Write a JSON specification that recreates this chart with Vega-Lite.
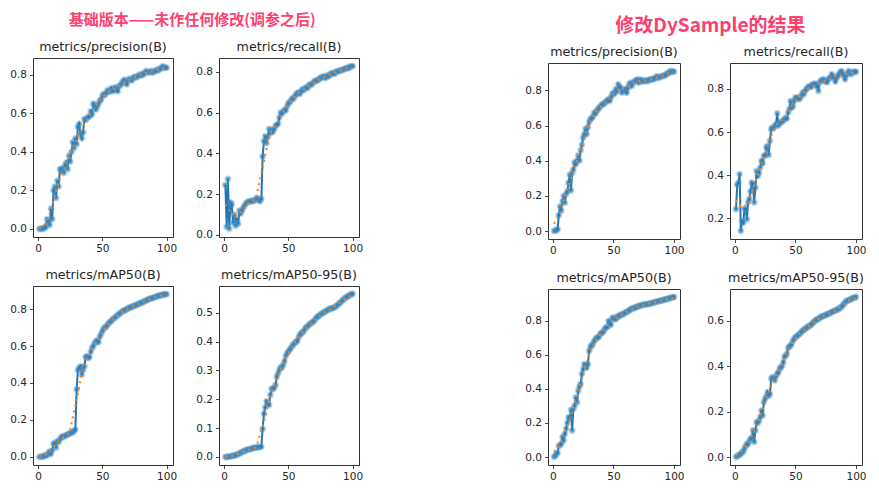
{
"$schema": "https://vega.github.io/schema/vega-lite/v6.json",
"padding": {"left": 9, "top": 12, "right": 5, "bottom": 5},
"background": "white",
"config": {
  "font": "DejaVu Sans",
  "view": {"stroke": "#333", "strokeWidth": 1},
  "axis": {"domain": false, "grid": false, "tickSize": 3.5, "tickColor": "#333", "tickWidth": 0.9, "labelFont": "DejaVu Sans", "labelFontSize": 10.5, "labelColor": "#262626", "labelPadding": 3, "labelFlush": false, "labelOverlap": false},
  "title": {"font": "DejaVu Sans", "fontSize": 12.7, "fontWeight": "normal", "color": "#262626", "offset": 4, "anchor": "middle"}
},
"data": {"values": [
{"x":1,"a":0,"b":0.245,"c":0,"d":0,"e":0,"f":0.242,"g":0,"h":0},
{"x":2,"a":0,"b":0.04,"c":0,"d":0,"e":0.002,"f":0.355,"g":0.008,"h":0.003},
{"x":3,"a":0.001,"b":0.275,"c":0.001,"d":0.001,"e":0.005,"f":0.365,"g":0.018,"h":0.007},
{"x":4,"a":0.002,"b":0.03,"c":0.002,"d":0.001,"e":0.01,"f":0.405,"g":0.025,"h":0.01},
{"x":5,"a":0.005,"b":0.16,"c":0.005,"d":0.002,"e":0.09,"f":0.141,"g":0.065,"h":0.015},
{"x":6,"a":0.01,"b":0.15,"c":0.01,"d":0.003,"e":0.14,"f":0.188,"g":0.07,"h":0.02},
{"x":7,"a":0.05,"b":0.06,"c":0.008,"d":0.004,"e":0.115,"f":0.18,"g":0.078,"h":0.026},
{"x":8,"a":0.04,"b":0.1,"c":0.02,"d":0.005,"e":0.17,"f":0.245,"g":0.117,"h":0.037},
{"x":9,"a":0.02,"b":0.045,"c":0.03,"d":0.006,"e":0.2,"f":0.242,"g":0.098,"h":0.048},
{"x":10,"a":0.105,"b":0.075,"c":0.015,"d":0.008,"e":0.16,"f":0.195,"g":0.137,"h":0.059},
{"x":11,"a":0.05,"b":0.055,"c":0.035,"d":0.01,"e":0.21,"f":0.275,"g":0.166,"h":0.056},
{"x":12,"a":0.2,"b":0.12,"c":0.07,"d":0.012,"e":0.225,"f":0.29,"g":0.2,"h":0.07},
{"x":13,"a":0.22,"b":0.105,"c":0.075,"d":0.015,"e":0.275,"f":0.325,"g":0.234,"h":0.08},
{"x":14,"a":0.16,"b":0.12,"c":0.05,"d":0.017,"e":0.32,"f":0.365,"g":0.224,"h":0.085},
{"x":15,"a":0.25,"b":0.135,"c":0.085,"d":0.019,"e":0.23,"f":0.358,"g":0.277,"h":0.117},
{"x":16,"a":0.22,"b":0.145,"c":0.08,"d":0.021,"e":0.33,"f":0.273,"g":0.156,"h":0.066},
{"x":17,"a":0.31,"b":0.155,"c":0.095,"d":0.023,"e":0.35,"f":0.342,"g":0.283,"h":0.117},
{"x":18,"a":0.3,"b":0.16,"c":0.105,"d":0.025,"e":0.39,"f":0.42,"g":0.302,"h":0.154},
{"x":19,"a":0.315,"b":0.163,"c":0.11,"d":0.026,"e":0.38,"f":0.396,"g":0.35,"h":0.15},
{"x":20,"a":0.29,"b":0.165,"c":0.108,"d":0.027,"e":0.4,"f":0.41,"g":0.322,"h":0.16},
{"x":21,"a":0.33,"b":0.165,"c":0.115,"d":0.028,"e":0.43,"f":0.435,"g":0.39,"h":0.176},
{"x":22,"a":0.345,"b":0.168,"c":0.118,"d":0.03,"e":0.4,"f":0.466,"g":0.415,"h":0.205},
{"x":23,"a":0.31,"b":0.166,"c":0.12,"d":0.031,"e":0.46,"f":0.455,"g":0.43,"h":0.183},
{"x":24,"a":0.38,"b":0.172,"c":0.125,"d":0.032,"e":0.49,"f":0.49,"g":0.488,"h":0.241},
{"x":25,"a":0.35,"b":0.178,"c":0.128,"d":0.033,"e":0.53,"f":0.49,"g":0.517,"h":0.256},
{"x":26,"a":0.4,"b":0.182,"c":0.13,"d":0.033,"e":0.55,"f":0.528,"g":0.546,"h":0.265},
{"x":27,"a":0.45,"b":0.17,"c":0.135,"d":0.034,"e":0.58,"f":0.535,"g":0.54,"h":0.285},
{"x":28,"a":0.42,"b":0.165,"c":0.14,"d":0.035,"e":0.55,"f":0.494,"g":0.525,"h":0.27},
{"x":29,"a":0.47,"b":0.178,"c":0.148,"d":0.035,"e":0.59,"f":0.56,"g":0.546,"h":0.278},
{"x":30,"a":0.44,"b":0.385,"c":0.365,"d":0.097,"e":0.62,"f":0.613,"g":0.624,"h":0.344},
{"x":31,"a":0.53,"b":0.46,"c":0.47,"d":0.15,"e":0.635,"f":0.62,"g":0.648,"h":0.351},
{"x":32,"a":0.545,"b":0.485,"c":0.48,"d":0.172,"e":0.64,"f":0.618,"g":0.654,"h":0.345},
{"x":33,"a":0.49,"b":0.45,"c":0.49,"d":0.193,"e":0.65,"f":0.628,"g":0.663,"h":0.337},
{"x":34,"a":0.47,"b":0.48,"c":0.445,"d":0.185,"e":0.673,"f":0.636,"g":0.68,"h":0.355},
{"x":35,"a":0.5,"b":0.52,"c":0.47,"d":0.18,"e":0.665,"f":0.686,"g":0.69,"h":0.366},
{"x":36,"a":0.57,"b":0.5,"c":0.49,"d":0.215,"e":0.68,"f":0.63,"g":0.7,"h":0.373},
{"x":37,"a":0.565,"b":0.515,"c":0.54,"d":0.237,"e":0.69,"f":0.64,"g":0.702,"h":0.388},
{"x":38,"a":0.575,"b":0.505,"c":0.545,"d":0.235,"e":0.7,"f":0.644,"g":0.706,"h":0.395},
{"x":39,"a":0.58,"b":0.52,"c":0.535,"d":0.24,"e":0.705,"f":0.65,"g":0.722,"h":0.4},
{"x":40,"a":0.585,"b":0.535,"c":0.54,"d":0.25,"e":0.715,"f":0.652,"g":0.728,"h":0.417},
{"x":41,"a":0.61,"b":0.54,"c":0.57,"d":0.278,"e":0.72,"f":0.66,"g":0.732,"h":0.44},
{"x":42,"a":0.595,"b":0.545,"c":0.59,"d":0.29,"e":0.722,"f":0.665,"g":0.741,"h":0.446},
{"x":43,"a":0.65,"b":0.575,"c":0.6,"d":0.302,"e":0.73,"f":0.662,"g":0.755,"h":0.454},
{"x":44,"a":0.64,"b":0.6,"c":0.615,"d":0.31,"e":0.735,"f":0.69,"g":0.762,"h":0.48},
{"x":45,"a":0.62,"b":0.595,"c":0.625,"d":0.31,"e":0.742,"f":0.706,"g":0.765,"h":0.485},
{"x":46,"a":0.635,"b":0.605,"c":0.63,"d":0.32,"e":0.75,"f":0.744,"g":0.8,"h":0.49},
{"x":47,"a":0.65,"b":0.615,"c":0.62,"d":0.332,"e":0.74,"f":0.713,"g":0.79,"h":0.498},
{"x":48,"a":0.665,"b":0.61,"c":0.65,"d":0.35,"e":0.76,"f":0.72,"g":0.778,"h":0.512},
{"x":49,"a":0.67,"b":0.63,"c":0.665,"d":0.36,"e":0.777,"f":0.744,"g":0.815,"h":0.52},
{"x":50,"a":0.69,"b":0.645,"c":0.68,"d":0.365,"e":0.787,"f":0.76,"g":0.82,"h":0.527},
{"x":51,"a":0.7,"b":0.65,"c":0.695,"d":0.372,"e":0.78,"f":0.755,"g":0.812,"h":0.53},
{"x":52,"a":0.695,"b":0.66,"c":0.7,"d":0.378,"e":0.806,"f":0.76,"g":0.81,"h":0.534},
{"x":53,"a":0.705,"b":0.67,"c":0.705,"d":0.385,"e":0.795,"f":0.752,"g":0.822,"h":0.54},
{"x":54,"a":0.72,"b":0.668,"c":0.715,"d":0.39,"e":0.834,"f":0.758,"g":0.83,"h":0.544},
{"x":55,"a":0.71,"b":0.68,"c":0.725,"d":0.395,"e":0.82,"f":0.77,"g":0.828,"h":0.55},
{"x":56,"a":0.715,"b":0.69,"c":0.73,"d":0.4,"e":0.815,"f":0.783,"g":0.835,"h":0.556},
{"x":57,"a":0.73,"b":0.695,"c":0.735,"d":0.402,"e":0.787,"f":0.775,"g":0.84,"h":0.56},
{"x":58,"a":0.715,"b":0.7,"c":0.745,"d":0.415,"e":0.795,"f":0.79,"g":0.838,"h":0.563},
{"x":59,"a":0.72,"b":0.692,"c":0.75,"d":0.424,"e":0.805,"f":0.798,"g":0.845,"h":0.568},
{"x":60,"a":0.735,"b":0.705,"c":0.755,"d":0.428,"e":0.806,"f":0.806,"g":0.85,"h":0.572},
{"x":61,"a":0.725,"b":0.715,"c":0.762,"d":0.432,"e":0.787,"f":0.81,"g":0.852,"h":0.574},
{"x":62,"a":0.715,"b":0.71,"c":0.77,"d":0.437,"e":0.815,"f":0.814,"g":0.858,"h":0.578},
{"x":63,"a":0.74,"b":0.72,"c":0.772,"d":0.445,"e":0.834,"f":0.808,"g":0.862,"h":0.582},
{"x":64,"a":0.745,"b":0.725,"c":0.778,"d":0.45,"e":0.843,"f":0.822,"g":0.866,"h":0.588},
{"x":65,"a":0.755,"b":0.72,"c":0.785,"d":0.453,"e":0.825,"f":0.818,"g":0.872,"h":0.593},
{"x":66,"a":0.765,"b":0.735,"c":0.79,"d":0.458,"e":0.84,"f":0.825,"g":0.875,"h":0.598},
{"x":67,"a":0.775,"b":0.74,"c":0.792,"d":0.462,"e":0.848,"f":0.82,"g":0.876,"h":0.603},
{"x":68,"a":0.76,"b":0.735,"c":0.795,"d":0.465,"e":0.853,"f":0.81,"g":0.878,"h":0.605},
{"x":69,"a":0.75,"b":0.745,"c":0.8,"d":0.468,"e":0.858,"f":0.79,"g":0.882,"h":0.607},
{"x":70,"a":0.77,"b":0.752,"c":0.803,"d":0.472,"e":0.862,"f":0.83,"g":0.885,"h":0.612},
{"x":71,"a":0.78,"b":0.758,"c":0.807,"d":0.478,"e":0.843,"f":0.838,"g":0.888,"h":0.616},
{"x":72,"a":0.775,"b":0.755,"c":0.81,"d":0.484,"e":0.855,"f":0.84,"g":0.89,"h":0.618},
{"x":73,"a":0.77,"b":0.76,"c":0.812,"d":0.487,"e":0.862,"f":0.845,"g":0.892,"h":0.62},
{"x":74,"a":0.785,"b":0.765,"c":0.815,"d":0.49,"e":0.85,"f":0.84,"g":0.894,"h":0.622},
{"x":75,"a":0.79,"b":0.77,"c":0.818,"d":0.494,"e":0.852,"f":0.835,"g":0.896,"h":0.625},
{"x":76,"a":0.785,"b":0.775,"c":0.82,"d":0.497,"e":0.855,"f":0.83,"g":0.897,"h":0.627},
{"x":77,"a":0.79,"b":0.772,"c":0.824,"d":0.5,"e":0.858,"f":0.842,"g":0.898,"h":0.629},
{"x":78,"a":0.795,"b":0.78,"c":0.828,"d":0.503,"e":0.852,"f":0.85,"g":0.899,"h":0.632},
{"x":79,"a":0.8,"b":0.77,"c":0.83,"d":0.505,"e":0.857,"f":0.853,"g":0.9,"h":0.635},
{"x":80,"a":0.795,"b":0.776,"c":0.833,"d":0.508,"e":0.86,"f":0.868,"g":0.902,"h":0.637},
{"x":81,"a":0.805,"b":0.785,"c":0.836,"d":0.511,"e":0.862,"f":0.858,"g":0.904,"h":0.64},
{"x":82,"a":0.8,"b":0.78,"c":0.84,"d":0.513,"e":0.865,"f":0.85,"g":0.906,"h":0.642},
{"x":83,"a":0.81,"b":0.79,"c":0.843,"d":0.515,"e":0.862,"f":0.834,"g":0.908,"h":0.644},
{"x":84,"a":0.82,"b":0.795,"c":0.846,"d":0.516,"e":0.868,"f":0.85,"g":0.91,"h":0.647},
{"x":85,"a":0.815,"b":0.792,"c":0.85,"d":0.517,"e":0.872,"f":0.86,"g":0.912,"h":0.65},
{"x":86,"a":0.81,"b":0.79,"c":0.853,"d":0.519,"e":0.88,"f":0.868,"g":0.914,"h":0.652},
{"x":87,"a":0.815,"b":0.8,"c":0.856,"d":0.522,"e":0.87,"f":0.876,"g":0.916,"h":0.656},
{"x":88,"a":0.82,"b":0.805,"c":0.858,"d":0.526,"e":0.875,"f":0.883,"g":0.918,"h":0.661},
{"x":89,"a":0.81,"b":0.8,"c":0.86,"d":0.53,"e":0.878,"f":0.87,"g":0.919,"h":0.666},
{"x":90,"a":0.815,"b":0.806,"c":0.862,"d":0.534,"e":0.88,"f":0.86,"g":0.921,"h":0.673},
{"x":91,"a":0.82,"b":0.81,"c":0.865,"d":0.538,"e":0.882,"f":0.845,"g":0.923,"h":0.679},
{"x":92,"a":0.825,"b":0.808,"c":0.868,"d":0.543,"e":0.885,"f":0.862,"g":0.925,"h":0.685},
{"x":93,"a":0.82,"b":0.812,"c":0.87,"d":0.547,"e":0.887,"f":0.873,"g":0.927,"h":0.688},
{"x":94,"a":0.83,"b":0.815,"c":0.872,"d":0.551,"e":0.893,"f":0.883,"g":0.929,"h":0.69},
{"x":95,"a":0.83,"b":0.818,"c":0.874,"d":0.554,"e":0.897,"f":0.875,"g":0.931,"h":0.692},
{"x":96,"a":0.835,"b":0.82,"c":0.876,"d":0.556,"e":0.9,"f":0.868,"g":0.933,"h":0.695},
{"x":97,"a":0.845,"b":0.818,"c":0.878,"d":0.559,"e":0.91,"f":0.876,"g":0.936,"h":0.698},
{"x":98,"a":0.838,"b":0.825,"c":0.879,"d":0.562,"e":0.905,"f":0.88,"g":0.938,"h":0.7},
{"x":99,"a":0.835,"b":0.828,"c":0.88,"d":0.565,"e":0.908,"f":0.878,"g":0.94,"h":0.702},
{"x":100,"a":0.837,"b":0.828,"c":0.881,"d":0.565,"e":0.906,"f":0.88,"g":0.941,"h":0.704}
]},
"spacing": 160,
"hconcat": [
 {
  "title": {"text": "基础版本——未作任何修改(调参之后)", "font": "Noto Sans CJK SC", "fontSize": 15, "fontWeight": "bold", "color": "#fe4070", "offset": -7, "dx": 6},
  "spacing": 13,
  "vconcat": [
   {"width": 1, "height": 1, "view": {"stroke": null}, "mark": {"type": "point", "opacity": 0}, "encoding": {}},
   {"bounds": "flush", "spacing": 46, "hconcat": [
    {"width": 140, "height": 179, "title": "metrics/precision(B)",
     "transform": [{"window": [{"op": "mean", "field": "a", "as": "s"}], "frame": [-5, 5], "sort": [{"field": "x"}]}],
     "encoding": {"x": {"field": "x", "type": "quantitative", "title": null, "scale": {"domain": [-3.95, 104.95], "nice": false, "zero": false}, "axis": {"values": [0, 50, 100]}}},
     "layer": [
      {"mark": {"type": "line", "color": "#1f77b4", "strokeWidth": 2}, "encoding": {"y": {"field": "a", "type": "quantitative", "title": null, "scale": {"domain": [-0.042, 0.887], "nice": false, "zero": false}, "axis": {"values": [0, 0.2, 0.4, 0.6, 0.8], "format": ".1f"}}}},
      {"mark": {"type": "point", "filled": true, "color": "#1f77b4", "size": 24, "stroke": "#5b9bd0", "strokeWidth": 2, "strokeOpacity": 0.5}, "encoding": {"y": {"field": "a", "type": "quantitative", "title": null, "axis": {"values": [0, 0.2, 0.4, 0.6, 0.8], "format": ".1f"}}}},
      {"mark": {"type": "line", "color": "#ff7f0e", "strokeWidth": 2, "strokeDash": [2, 4]}, "encoding": {"y": {"field": "s", "type": "quantitative", "title": null, "axis": {"values": [0, 0.2, 0.4, 0.6, 0.8], "format": ".1f"}}}}
     ]},
    {"width": 140, "height": 179, "title": "metrics/recall(B)",
     "transform": [{"window": [{"op": "mean", "field": "b", "as": "s"}], "frame": [-5, 5], "sort": [{"field": "x"}]}],
     "encoding": {"x": {"field": "x", "type": "quantitative", "title": null, "scale": {"domain": [-3.95, 104.95], "nice": false, "zero": false}, "axis": {"values": [0, 50, 100]}}},
     "layer": [
      {"mark": {"type": "line", "color": "#1f77b4", "strokeWidth": 2}, "encoding": {"y": {"field": "b", "type": "quantitative", "title": null, "scale": {"domain": [-0.010, 0.868], "nice": false, "zero": false}, "axis": {"values": [0, 0.2, 0.4, 0.6, 0.8], "format": ".1f"}}}},
      {"mark": {"type": "point", "filled": true, "color": "#1f77b4", "size": 24, "stroke": "#5b9bd0", "strokeWidth": 2, "strokeOpacity": 0.5}, "encoding": {"y": {"field": "b", "type": "quantitative", "title": null, "axis": {"values": [0, 0.2, 0.4, 0.6, 0.8], "format": ".1f"}}}},
      {"mark": {"type": "line", "color": "#ff7f0e", "strokeWidth": 2, "strokeDash": [2, 4]}, "encoding": {"y": {"field": "s", "type": "quantitative", "title": null, "axis": {"values": [0, 0.2, 0.4, 0.6, 0.8], "format": ".1f"}}}}
     ]}
   ]},
   {"bounds": "flush", "spacing": 46, "hconcat": [
    {"width": 140, "height": 179, "title": "metrics/mAP50(B)",
     "transform": [{"window": [{"op": "mean", "field": "c", "as": "s"}], "frame": [-5, 5], "sort": [{"field": "x"}]}],
     "encoding": {"x": {"field": "x", "type": "quantitative", "title": null, "scale": {"domain": [-3.95, 104.95], "nice": false, "zero": false}, "axis": {"values": [0, 50, 100]}}},
     "layer": [
      {"mark": {"type": "line", "color": "#1f77b4", "strokeWidth": 2}, "encoding": {"y": {"field": "c", "type": "quantitative", "title": null, "scale": {"domain": [-0.044, 0.925], "nice": false, "zero": false}, "axis": {"values": [0, 0.2, 0.4, 0.6, 0.8], "format": ".1f"}}}},
      {"mark": {"type": "point", "filled": true, "color": "#1f77b4", "size": 24, "stroke": "#5b9bd0", "strokeWidth": 2, "strokeOpacity": 0.5}, "encoding": {"y": {"field": "c", "type": "quantitative", "title": null, "axis": {"values": [0, 0.2, 0.4, 0.6, 0.8], "format": ".1f"}}}},
      {"mark": {"type": "line", "color": "#ff7f0e", "strokeWidth": 2, "strokeDash": [2, 4]}, "encoding": {"y": {"field": "s", "type": "quantitative", "title": null, "axis": {"values": [0, 0.2, 0.4, 0.6, 0.8], "format": ".1f"}}}}
     ]},
    {"width": 140, "height": 179, "title": "metrics/mAP50-95(B)",
     "transform": [{"window": [{"op": "mean", "field": "d", "as": "s"}], "frame": [-5, 5], "sort": [{"field": "x"}]}],
     "encoding": {"x": {"field": "x", "type": "quantitative", "title": null, "scale": {"domain": [-3.95, 104.95], "nice": false, "zero": false}, "axis": {"values": [0, 50, 100]}}},
     "layer": [
      {"mark": {"type": "line", "color": "#1f77b4", "strokeWidth": 2}, "encoding": {"y": {"field": "d", "type": "quantitative", "title": null, "scale": {"domain": [-0.028, 0.593], "nice": false, "zero": false}, "axis": {"values": [0, 0.1, 0.2, 0.3, 0.4, 0.5], "format": ".1f"}}}},
      {"mark": {"type": "point", "filled": true, "color": "#1f77b4", "size": 24, "stroke": "#5b9bd0", "strokeWidth": 2, "strokeOpacity": 0.5}, "encoding": {"y": {"field": "d", "type": "quantitative", "title": null, "axis": {"values": [0, 0.1, 0.2, 0.3, 0.4, 0.5], "format": ".1f"}}}},
      {"mark": {"type": "line", "color": "#ff7f0e", "strokeWidth": 2, "strokeDash": [2, 4]}, "encoding": {"y": {"field": "s", "type": "quantitative", "title": null, "axis": {"values": [0, 0.1, 0.2, 0.3, 0.4, 0.5], "format": ".1f"}}}}
     ]}
   ]}
  ]
 },
 {
  "title": {"text": "修改DySample的结果", "font": "Noto Sans CJK SC", "fontSize": 19, "fontWeight": "bold", "color": "#fe4070", "offset": -13, "dx": 15},
  "spacing": 14,
  "vconcat": [
   {"width": 1, "height": 7.5, "view": {"stroke": null}, "mark": {"type": "point", "opacity": 0}, "encoding": {}},
   {"bounds": "flush", "spacing": 50, "hconcat": [
    {"width": 132, "height": 176, "title": "metrics/precision(B)",
     "transform": [{"window": [{"op": "mean", "field": "e", "as": "s"}], "frame": [-5, 5], "sort": [{"field": "x"}]}],
     "encoding": {"x": {"field": "x", "type": "quantitative", "title": null, "scale": {"domain": [-3.95, 104.95], "nice": false, "zero": false}, "axis": {"values": [0, 50, 100]}}},
     "layer": [
      {"mark": {"type": "line", "color": "#1f77b4", "strokeWidth": 2}, "encoding": {"y": {"field": "e", "type": "quantitative", "title": null, "scale": {"domain": [-0.0455, 0.9555], "nice": false, "zero": false}, "axis": {"values": [0, 0.2, 0.4, 0.6, 0.8], "format": ".1f"}}}},
      {"mark": {"type": "point", "filled": true, "color": "#1f77b4", "size": 24, "stroke": "#5b9bd0", "strokeWidth": 2, "strokeOpacity": 0.5}, "encoding": {"y": {"field": "e", "type": "quantitative", "title": null, "axis": {"values": [0, 0.2, 0.4, 0.6, 0.8], "format": ".1f"}}}},
      {"mark": {"type": "line", "color": "#ff7f0e", "strokeWidth": 2, "strokeDash": [2, 4]}, "encoding": {"y": {"field": "s", "type": "quantitative", "title": null, "axis": {"values": [0, 0.2, 0.4, 0.6, 0.8], "format": ".1f"}}}}
     ]},
    {"width": 132, "height": 176, "title": "metrics/recall(B)",
     "transform": [{"window": [{"op": "mean", "field": "f", "as": "s"}], "frame": [-5, 5], "sort": [{"field": "x"}]}],
     "encoding": {"x": {"field": "x", "type": "quantitative", "title": null, "scale": {"domain": [-3.95, 104.95], "nice": false, "zero": false}, "axis": {"values": [0, 50, 100]}}},
     "layer": [
      {"mark": {"type": "line", "color": "#1f77b4", "strokeWidth": 2}, "encoding": {"y": {"field": "f", "type": "quantitative", "title": null, "scale": {"domain": [0.104, 0.92], "nice": false, "zero": false}, "axis": {"values": [0.2, 0.4, 0.6, 0.8], "format": ".1f"}}}},
      {"mark": {"type": "point", "filled": true, "color": "#1f77b4", "size": 24, "stroke": "#5b9bd0", "strokeWidth": 2, "strokeOpacity": 0.5}, "encoding": {"y": {"field": "f", "type": "quantitative", "title": null, "axis": {"values": [0.2, 0.4, 0.6, 0.8], "format": ".1f"}}}},
      {"mark": {"type": "line", "color": "#ff7f0e", "strokeWidth": 2, "strokeDash": [2, 4]}, "encoding": {"y": {"field": "s", "type": "quantitative", "title": null, "axis": {"values": [0.2, 0.4, 0.6, 0.8], "format": ".1f"}}}}
     ]}
   ]},
   {"bounds": "flush", "spacing": 50, "hconcat": [
    {"width": 132, "height": 176, "title": "metrics/mAP50(B)",
     "transform": [{"window": [{"op": "mean", "field": "g", "as": "s"}], "frame": [-5, 5], "sort": [{"field": "x"}]}],
     "encoding": {"x": {"field": "x", "type": "quantitative", "title": null, "scale": {"domain": [-3.95, 104.95], "nice": false, "zero": false}, "axis": {"values": [0, 50, 100]}}},
     "layer": [
      {"mark": {"type": "line", "color": "#1f77b4", "strokeWidth": 2}, "encoding": {"y": {"field": "g", "type": "quantitative", "title": null, "scale": {"domain": [-0.047, 0.988], "nice": false, "zero": false}, "axis": {"values": [0, 0.2, 0.4, 0.6, 0.8], "format": ".1f"}}}},
      {"mark": {"type": "point", "filled": true, "color": "#1f77b4", "size": 24, "stroke": "#5b9bd0", "strokeWidth": 2, "strokeOpacity": 0.5}, "encoding": {"y": {"field": "g", "type": "quantitative", "title": null, "axis": {"values": [0, 0.2, 0.4, 0.6, 0.8], "format": ".1f"}}}},
      {"mark": {"type": "line", "color": "#ff7f0e", "strokeWidth": 2, "strokeDash": [2, 4]}, "encoding": {"y": {"field": "s", "type": "quantitative", "title": null, "axis": {"values": [0, 0.2, 0.4, 0.6, 0.8], "format": ".1f"}}}}
     ]},
    {"width": 132, "height": 176, "title": "metrics/mAP50-95(B)",
     "transform": [{"window": [{"op": "mean", "field": "h", "as": "s"}], "frame": [-5, 5], "sort": [{"field": "x"}]}],
     "encoding": {"x": {"field": "x", "type": "quantitative", "title": null, "scale": {"domain": [-3.95, 104.95], "nice": false, "zero": false}, "axis": {"values": [0, 50, 100]}}},
     "layer": [
      {"mark": {"type": "line", "color": "#1f77b4", "strokeWidth": 2}, "encoding": {"y": {"field": "h", "type": "quantitative", "title": null, "scale": {"domain": [-0.035, 0.739], "nice": false, "zero": false}, "axis": {"values": [0, 0.2, 0.4, 0.6], "format": ".1f"}}}},
      {"mark": {"type": "point", "filled": true, "color": "#1f77b4", "size": 24, "stroke": "#5b9bd0", "strokeWidth": 2, "strokeOpacity": 0.5}, "encoding": {"y": {"field": "h", "type": "quantitative", "title": null, "axis": {"values": [0, 0.2, 0.4, 0.6], "format": ".1f"}}}},
      {"mark": {"type": "line", "color": "#ff7f0e", "strokeWidth": 2, "strokeDash": [2, 4]}, "encoding": {"y": {"field": "s", "type": "quantitative", "title": null, "axis": {"values": [0, 0.2, 0.4, 0.6], "format": ".1f"}}}}
     ]}
   ]}
  ]
 }
]
}
